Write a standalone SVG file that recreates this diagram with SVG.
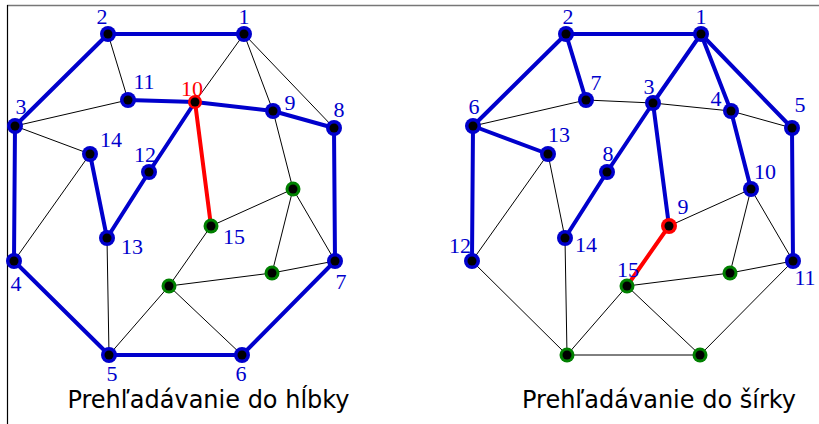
<svg xmlns="http://www.w3.org/2000/svg" width="819" height="424" viewBox="0 0 819 424">
<defs>
<style>
.thin{stroke:#000;stroke-width:1;fill:none}
.thick{stroke:#0000cc;stroke-width:4;fill:none;stroke-linecap:round}
.red{stroke:#ff0000;stroke-width:4;fill:none;stroke-linecap:round}
.nb{fill:#0000cc}
.ng{fill:#008000}
.nr{fill:#ff0000}
.dot{fill:#000}
.lbl{font-family:"Liberation Serif","Times New Roman",serif;font-size:22px;fill:#0000cc;text-anchor:middle}
.lblr{fill:#ff0000}
.cap{font-family:"DejaVu Sans","Liberation Sans",sans-serif;font-size:24px;fill:#000;text-anchor:middle}
</style>
</defs>
<rect width="819" height="424" fill="#fff"/>
<line x1="7" y1="5.5" x2="819" y2="5.5" stroke="#777" stroke-width="1.5"/>
<line x1="7.5" y1="5" x2="7.5" y2="424" stroke="#000" stroke-width="1.2"/>

<!-- LEFT GRAPH: depth-first -->
<g id="connectors-left">
<line class="thin" x1="244" y1="34" x2="334" y2="128"/>
<line class="thin" x1="244" y1="34" x2="195" y2="102"/>
<line class="thin" x1="244" y1="34" x2="273" y2="111"/>
<line class="thin" x1="108" y1="34" x2="128" y2="100"/>
<line class="thin" x1="15" y1="126" x2="128" y2="100"/>
<line class="thin" x1="15" y1="126" x2="90" y2="154"/>
<line class="thin" x1="90" y1="154" x2="14" y2="261"/>
<line class="thin" x1="273" y1="111" x2="293" y2="189"/>
<line class="thin" x1="293" y1="189" x2="211" y2="226"/>
<line class="thin" x1="293" y1="189" x2="272" y2="273"/>
<line class="thin" x1="293" y1="189" x2="335" y2="261"/>
<line class="thin" x1="211" y1="226" x2="169" y2="286"/>
<line class="thin" x1="169" y1="286" x2="272" y2="273"/>
<line class="thin" x1="272" y1="273" x2="335" y2="261"/>
<line class="thin" x1="169" y1="286" x2="109" y2="355"/>
<line class="thin" x1="169" y1="286" x2="242" y2="355"/>
<line class="thin" x1="107" y1="238" x2="109" y2="355"/>
<line class="thick" x1="244" y1="34" x2="108" y2="34"/>
<line class="thick" x1="108" y1="34" x2="15" y2="126"/>
<line class="thick" x1="15" y1="126" x2="14" y2="261"/>
<line class="thick" x1="14" y1="261" x2="109" y2="355"/>
<line class="thick" x1="109" y1="355" x2="242" y2="355"/>
<line class="thick" x1="242" y1="355" x2="335" y2="261"/>
<line class="thick" x1="335" y1="261" x2="334" y2="128"/>
<line class="thick" x1="334" y1="128" x2="273" y2="111"/>
<line class="thick" x1="273" y1="111" x2="195" y2="102"/>
<line class="thick" x1="195" y1="102" x2="128" y2="100"/>
<line class="thick" x1="195" y1="102" x2="149" y2="172"/>
<line class="thick" x1="149" y1="172" x2="107" y2="238"/>
<line class="thick" x1="107" y1="238" x2="90" y2="154"/>
<line class="red" x1="195" y1="102" x2="211" y2="226"/>
</g>
<g id="L1"><circle class="nb" cx="244" cy="34" r="8"/><circle class="dot" cx="244" cy="34" r="4.5"/><text class="lbl" x="244" y="24">1</text></g>
<g id="L2"><circle class="nb" cx="108" cy="34" r="8"/><circle class="dot" cx="108" cy="34" r="4.5"/><text class="lbl" x="102" y="24">2</text></g>
<g id="L3"><circle class="nb" cx="15" cy="126" r="8"/><circle class="dot" cx="15" cy="126" r="4.5"/><text class="lbl" x="21" y="114">3</text></g>
<g id="L4"><circle class="nb" cx="14" cy="261" r="8"/><circle class="dot" cx="14" cy="261" r="4.5"/><text class="lbl" x="16" y="291">4</text></g>
<g id="L5"><circle class="nb" cx="109" cy="355" r="8"/><circle class="dot" cx="109" cy="355" r="4.5"/><text class="lbl" x="112" y="381">5</text></g>
<g id="L6"><circle class="nb" cx="242" cy="355" r="8"/><circle class="dot" cx="242" cy="355" r="4.5"/><text class="lbl" x="241" y="381">6</text></g>
<g id="L7"><circle class="nb" cx="335" cy="261" r="8"/><circle class="dot" cx="335" cy="261" r="4.5"/><text class="lbl" x="341" y="289">7</text></g>
<g id="L8"><circle class="nb" cx="334" cy="128" r="8"/><circle class="dot" cx="334" cy="128" r="4.5"/><text class="lbl" x="339" y="117">8</text></g>
<g id="L9"><circle class="nb" cx="273" cy="111" r="8"/><circle class="dot" cx="273" cy="111" r="4.5"/><text class="lbl" x="290" y="110">9</text></g>
<g id="L10"><circle class="nr" cx="195" cy="102" r="7"/><circle class="dot" cx="195" cy="102" r="4.5"/><text class="lbl lblr" x="192" y="96">10</text></g>
<g id="L11"><circle class="nb" cx="128" cy="100" r="8"/><circle class="dot" cx="128" cy="100" r="4.5"/><text class="lbl" x="144" y="89">11</text></g>
<g id="L12"><circle class="nb" cx="149" cy="172" r="8"/><circle class="dot" cx="149" cy="172" r="4.5"/><text class="lbl" x="145" y="162">12</text></g>
<g id="L13"><circle class="nb" cx="107" cy="238" r="8"/><circle class="dot" cx="107" cy="238" r="4.5"/><text class="lbl" x="132" y="254">13</text></g>
<g id="L14"><circle class="nb" cx="90" cy="154" r="8"/><circle class="dot" cx="90" cy="154" r="4.5"/><text class="lbl" x="111" y="147">14</text></g>
<g id="L15"><circle class="ng" cx="211" cy="226" r="7.5"/><circle class="dot" cx="211" cy="226" r="4.5"/><text class="lbl" x="234" y="244">15</text></g>
<g id="LgA"><circle class="ng" cx="293" cy="189" r="7.5"/><circle class="dot" cx="293" cy="189" r="4.5"/></g>
<g id="LgB"><circle class="ng" cx="272" cy="273" r="7.5"/><circle class="dot" cx="272" cy="273" r="4.5"/></g>
<g id="LgC"><circle class="ng" cx="169" cy="286" r="7.5"/><circle class="dot" cx="169" cy="286" r="4.5"/></g>
<text class="cap" x="208.5" y="408">Prehľadávanie do hĺbky</text>

<!-- RIGHT GRAPH: breadth-first -->
<g id="connectors-right">
<line class="thin" x1="586" y1="100" x2="653" y2="103"/>
<line class="thin" x1="653" y1="103" x2="731" y2="111"/>
<line class="thin" x1="731" y1="111" x2="792" y2="128"/>
<line class="thin" x1="473" y1="126" x2="586" y2="100"/>
<line class="thin" x1="548" y1="154" x2="565" y2="238"/>
<line class="thin" x1="548" y1="154" x2="472" y2="261"/>
<line class="thin" x1="751" y1="189" x2="669" y2="226"/>
<line class="thin" x1="751" y1="189" x2="730" y2="273"/>
<line class="thin" x1="751" y1="189" x2="793" y2="261"/>
<line class="thin" x1="627" y1="286" x2="730" y2="273"/>
<line class="thin" x1="730" y1="273" x2="793" y2="261"/>
<line class="thin" x1="627" y1="286" x2="567" y2="355"/>
<line class="thin" x1="627" y1="286" x2="700" y2="355"/>
<line class="thin" x1="565" y1="238" x2="567" y2="355"/>
<line class="thin" x1="472" y1="261" x2="567" y2="355"/>
<line class="thin" x1="567" y1="355" x2="700" y2="355"/>
<line class="thin" x1="700" y1="355" x2="793" y2="261"/>
<line class="thick" x1="701" y1="34" x2="566" y2="34"/>
<line class="thick" x1="701" y1="34" x2="653" y2="103"/>
<line class="thick" x1="701" y1="34" x2="731" y2="111"/>
<line class="thick" x1="701" y1="34" x2="792" y2="128"/>
<line class="thick" x1="566" y1="34" x2="473" y2="126"/>
<line class="thick" x1="566" y1="34" x2="586" y2="100"/>
<line class="thick" x1="653" y1="103" x2="607" y2="172"/>
<line class="thick" x1="653" y1="103" x2="669" y2="226"/>
<line class="thick" x1="731" y1="111" x2="751" y2="189"/>
<line class="thick" x1="792" y1="128" x2="793" y2="261"/>
<line class="thick" x1="473" y1="126" x2="472" y2="261"/>
<line class="thick" x1="473" y1="126" x2="548" y2="154"/>
<line class="thick" x1="607" y1="172" x2="565" y2="238"/>
<line class="red" x1="669" y1="226" x2="627" y2="286"/>
</g>
<g id="R1"><circle class="nb" cx="701" cy="34" r="8"/><circle class="dot" cx="701" cy="34" r="4.5"/><text class="lbl" x="701" y="24">1</text></g>
<g id="R2"><circle class="nb" cx="566" cy="34" r="8"/><circle class="dot" cx="566" cy="34" r="4.5"/><text class="lbl" x="568" y="24">2</text></g>
<g id="R3"><circle class="nb" cx="653" cy="103" r="8"/><circle class="dot" cx="653" cy="103" r="4.5"/><text class="lbl" x="649" y="94">3</text></g>
<g id="R4"><circle class="nb" cx="731" cy="111" r="8"/><circle class="dot" cx="731" cy="111" r="4.5"/><text class="lbl" x="716" y="106">4</text></g>
<g id="R5"><circle class="nb" cx="792" cy="128" r="8"/><circle class="dot" cx="792" cy="128" r="4.5"/><text class="lbl" x="800" y="112">5</text></g>
<g id="R6"><circle class="nb" cx="473" cy="126" r="8"/><circle class="dot" cx="473" cy="126" r="4.5"/><text class="lbl" x="474" y="114">6</text></g>
<g id="R7"><circle class="nb" cx="586" cy="100" r="8"/><circle class="dot" cx="586" cy="100" r="4.5"/><text class="lbl" x="596" y="90">7</text></g>
<g id="R8"><circle class="nb" cx="607" cy="172" r="8"/><circle class="dot" cx="607" cy="172" r="4.5"/><text class="lbl" x="608" y="161">8</text></g>
<g id="R9"><circle class="nr" cx="669" cy="226" r="8"/><circle class="dot" cx="669" cy="226" r="4.5"/><text class="lbl" x="683" y="214">9</text></g>
<g id="R10"><circle class="nb" cx="751" cy="189" r="8"/><circle class="dot" cx="751" cy="189" r="4.5"/><text class="lbl" x="765" y="179">10</text></g>
<g id="R11"><circle class="nb" cx="793" cy="261" r="8"/><circle class="dot" cx="793" cy="261" r="4.5"/><text class="lbl" x="805" y="285">11</text></g>
<g id="R12"><circle class="nb" cx="472" cy="261" r="8"/><circle class="dot" cx="472" cy="261" r="4.5"/><text class="lbl" x="460" y="253">12</text></g>
<g id="R13"><circle class="nb" cx="548" cy="154" r="8"/><circle class="dot" cx="548" cy="154" r="4.5"/><text class="lbl" x="559" y="142">13</text></g>
<g id="R14"><circle class="nb" cx="565" cy="238" r="8"/><circle class="dot" cx="565" cy="238" r="4.5"/><text class="lbl" x="586" y="252">14</text></g>
<g id="R15"><circle class="ng" cx="627" cy="286" r="7.5"/><circle class="dot" cx="627" cy="286" r="4.5"/><text class="lbl" x="628" y="277">15</text></g>
<g id="RgA"><circle class="ng" cx="730" cy="273" r="7.5"/><circle class="dot" cx="730" cy="273" r="4.5"/></g>
<g id="RgB"><circle class="ng" cx="567" cy="355" r="7.5"/><circle class="dot" cx="567" cy="355" r="4.5"/></g>
<g id="RgC"><circle class="ng" cx="700" cy="355" r="7.5"/><circle class="dot" cx="700" cy="355" r="4.5"/></g>
<text class="cap" x="659" y="408">Prehľadávanie do šírky</text>
</svg>
